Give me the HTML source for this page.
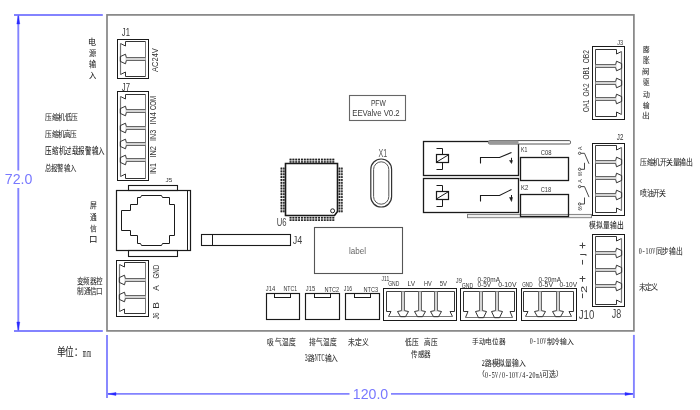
<!DOCTYPE html>
<html lang="zh-CN"><head><meta charset="utf-8"><title>PFW EEValve</title>
<style>
svg{will-change:transform;}
html,body{margin:0;padding:0;background:#fff;width:700px;height:410px;overflow:hidden;position:relative;font-family:"Liberation Sans",sans-serif;}

</style></head><body>
<svg width="700" height="410" viewBox="0 0 700 410" style="position:absolute;left:0;top:0">
<line x1="14" y1="15.0" x2="102.8" y2="15.0" stroke="#8383ff" stroke-width="1.9"/>
<line x1="14" y1="331" x2="102.8" y2="331" stroke="#8383ff" stroke-width="1.9"/>
<line x1="18.3" y1="15" x2="18.3" y2="170.5" stroke="#8383ff" stroke-width="1.9"/>
<line x1="18.3" y1="188" x2="18.3" y2="331" stroke="#8383ff" stroke-width="1.9"/>
<polygon points="18.30,15.60 16.80,24.00 19.80,24.00" stroke="#2a2aff" stroke-width="0.4" fill="#2a2aff" stroke-linejoin="miter"/>
<polygon points="18.30,330.40 16.80,322.00 19.80,322.00" stroke="#2a2aff" stroke-width="0.4" fill="#2a2aff" stroke-linejoin="miter"/>
<text x="4.8" y="184.4" font-family="Liberation Sans" font-size="14" fill="#7878ff" textLength="27.6" lengthAdjust="spacingAndGlyphs">72.0</text>
<line x1="107" y1="334.9" x2="107" y2="398" stroke="#8383ff" stroke-width="1.9"/>
<line x1="633.9" y1="334.9" x2="633.9" y2="398" stroke="#8383ff" stroke-width="1.9"/>
<line x1="107" y1="393.9" x2="349.5" y2="393.9" stroke="#8383ff" stroke-width="1.9"/>
<line x1="391" y1="393.9" x2="633.9" y2="393.9" stroke="#8383ff" stroke-width="1.9"/>
<polygon points="108.00,393.90 116.00,392.40 116.00,395.40" stroke="#2a2aff" stroke-width="0.4" fill="#2a2aff" stroke-linejoin="miter"/>
<polygon points="633.00,393.90 625.00,392.40 625.00,395.40" stroke="#2a2aff" stroke-width="0.4" fill="#2a2aff" stroke-linejoin="miter"/>
<text x="352.8" y="399.2" font-family="Liberation Sans" font-size="14.4" fill="#7878ff" textLength="35.4" lengthAdjust="spacingAndGlyphs">120.0</text>
<rect x="107.0" y="14.9" width="526.90" height="316.00" stroke="#858585" stroke-width="1.7" fill="none"/>
<rect x="117.5" y="39.5" width="31.00" height="39.00" stroke="#1a1a1a" stroke-width="1" fill="none"/>
<line x1="145.5" y1="41.5" x2="145.5" y2="76.5" stroke="#777" stroke-width="1"/>
<polyline points="145.50,41.50 125.50,41.50 125.50,46.00 120.50,43.50" stroke="#333" stroke-width="1" fill="none" stroke-linejoin="miter"/>
<polyline points="145.50,76.50 125.50,76.50 125.50,72.00 120.50,74.50" stroke="#333" stroke-width="1" fill="none" stroke-linejoin="miter"/>
<line x1="120.5" y1="43.5" x2="120.5" y2="74.5" stroke="#777" stroke-width="1.2"/>
<rect x="125.5" y="57.5" width="20.00" height="3" fill="#d4d4d4"/>
<line x1="126.3" y1="57.5" x2="145.5" y2="57.5" stroke="#666" stroke-width="1"/>
<line x1="126.3" y1="60.5" x2="145.5" y2="60.5" stroke="#666" stroke-width="1"/>
<polyline points="126.30,57.50 125.50,54.20 120.30,56.60 120.30,61.40 125.50,63.80 126.30,60.50" stroke="#333" stroke-width="1" fill="none" stroke-linejoin="miter"/>
<g transform="translate(121.808,36.000) scale(0.7179,1)"><text x="0" y="0" font-family="Liberation Sans" font-size="10.714" fill="#333">J1</text></g>
<g transform="translate(157.600,72.000) rotate(-90) scale(0.8013,1)"><text x="0" y="0" font-family="Liberation Sans" font-size="9.429" fill="#333">AC24V</text></g>
<rect x="117.5" y="91.5" width="31.00" height="89.00" stroke="#1a1a1a" stroke-width="1" fill="none"/>
<line x1="145.5" y1="94.5" x2="145.5" y2="178.5" stroke="#777" stroke-width="1"/>
<polyline points="145.50,94.50 125.50,94.50 125.50,99.00 120.50,96.50" stroke="#333" stroke-width="1" fill="none" stroke-linejoin="miter"/>
<polyline points="145.50,178.50 125.50,178.50 125.50,174.00 120.50,176.50" stroke="#333" stroke-width="1" fill="none" stroke-linejoin="miter"/>
<line x1="120.5" y1="96.5" x2="120.5" y2="176.5" stroke="#777" stroke-width="1.2"/>
<rect x="125.5" y="109.5" width="20.00" height="3" fill="#d4d4d4"/>
<line x1="126.3" y1="109.5" x2="145.5" y2="109.5" stroke="#666" stroke-width="1"/>
<line x1="126.3" y1="112.5" x2="145.5" y2="112.5" stroke="#666" stroke-width="1"/>
<polyline points="126.30,109.50 125.50,106.20 120.30,108.60 120.30,113.40 125.50,115.80 126.30,112.50" stroke="#333" stroke-width="1" fill="none" stroke-linejoin="miter"/>
<rect x="125.5" y="126.5" width="20.00" height="3" fill="#d4d4d4"/>
<line x1="126.3" y1="126.5" x2="145.5" y2="126.5" stroke="#666" stroke-width="1"/>
<line x1="126.3" y1="129.5" x2="145.5" y2="129.5" stroke="#666" stroke-width="1"/>
<polyline points="126.30,126.50 125.50,123.20 120.30,125.60 120.30,130.40 125.50,132.80 126.30,129.50" stroke="#333" stroke-width="1" fill="none" stroke-linejoin="miter"/>
<rect x="125.5" y="142.5" width="20.00" height="3" fill="#d4d4d4"/>
<line x1="126.3" y1="142.5" x2="145.5" y2="142.5" stroke="#666" stroke-width="1"/>
<line x1="126.3" y1="145.5" x2="145.5" y2="145.5" stroke="#666" stroke-width="1"/>
<polyline points="126.30,142.50 125.50,139.20 120.30,141.60 120.30,146.40 125.50,148.80 126.30,145.50" stroke="#333" stroke-width="1" fill="none" stroke-linejoin="miter"/>
<rect x="125.5" y="158.5" width="20.00" height="3" fill="#d4d4d4"/>
<line x1="126.3" y1="158.5" x2="145.5" y2="158.5" stroke="#666" stroke-width="1"/>
<line x1="126.3" y1="161.5" x2="145.5" y2="161.5" stroke="#666" stroke-width="1"/>
<polyline points="126.30,158.50 125.50,155.20 120.30,157.60 120.30,162.40 125.50,164.80 126.30,161.50" stroke="#333" stroke-width="1" fill="none" stroke-linejoin="miter"/>
<g transform="translate(121.808,90.500) scale(0.7179,1)"><text x="0" y="0" font-family="Liberation Sans" font-size="10.714" fill="#333">J7</text></g>
<g transform="translate(156.000,110.105) rotate(-90) scale(0.7480,1)"><text x="0" y="0" font-family="Liberation Sans" font-size="8.143" fill="#333">COM</text></g>
<g transform="translate(156.000,124.386) rotate(-90) scale(0.9652,1)"><text x="0" y="0" font-family="Liberation Sans" font-size="8.143" fill="#333">IN4</text></g>
<g transform="translate(156.000,140.916) rotate(-90) scale(0.8790,1)"><text x="0" y="0" font-family="Liberation Sans" font-size="8.143" fill="#333">IN3</text></g>
<g transform="translate(156.000,157.543) rotate(-90) scale(0.9123,1)"><text x="0" y="0" font-family="Liberation Sans" font-size="8.143" fill="#333">IN2</text></g>
<g transform="translate(156.000,174.100) rotate(-90) scale(0.8596,1)"><text x="0" y="0" font-family="Liberation Sans" font-size="8.143" fill="#333">IN1</text></g>
<rect x="116.5" y="260.5" width="32.00" height="56.00" stroke="#1a1a1a" stroke-width="1" fill="none"/>
<line x1="145.5" y1="262.5" x2="145.5" y2="313.5" stroke="#777" stroke-width="1"/>
<polyline points="145.50,262.50 124.50,262.50 124.50,267.00 119.50,264.50" stroke="#333" stroke-width="1" fill="none" stroke-linejoin="miter"/>
<polyline points="145.50,313.50 124.50,313.50 124.50,309.00 119.50,311.50" stroke="#333" stroke-width="1" fill="none" stroke-linejoin="miter"/>
<line x1="119.5" y1="264.5" x2="119.5" y2="311.5" stroke="#777" stroke-width="1.2"/>
<rect x="124.5" y="278.5" width="21.00" height="3" fill="#d4d4d4"/>
<line x1="125.3" y1="278.5" x2="145.5" y2="278.5" stroke="#666" stroke-width="1"/>
<line x1="125.3" y1="281.5" x2="145.5" y2="281.5" stroke="#666" stroke-width="1"/>
<polyline points="125.30,278.50 124.50,275.20 119.30,277.60 119.30,282.40 124.50,284.80 125.30,281.50" stroke="#333" stroke-width="1" fill="none" stroke-linejoin="miter"/>
<rect x="124.5" y="295.5" width="21.00" height="3" fill="#d4d4d4"/>
<line x1="125.3" y1="295.5" x2="145.5" y2="295.5" stroke="#666" stroke-width="1"/>
<line x1="125.3" y1="298.5" x2="145.5" y2="298.5" stroke="#666" stroke-width="1"/>
<polyline points="125.30,295.50 124.50,292.20 119.30,294.60 119.30,299.40 124.50,301.80 125.30,298.50" stroke="#333" stroke-width="1" fill="none" stroke-linejoin="miter"/>
<g transform="translate(159.000,278.613) rotate(-90) scale(0.6443,1)"><text x="0" y="0" font-family="Liberation Sans" font-size="9.714" fill="#333">GND</text></g>
<g transform="translate(159.000,290.800) rotate(-90) scale(0.8388,1)"><text x="0" y="0" font-family="Liberation Sans" font-size="9.714" fill="#333">A</text></g>
<g transform="translate(159.000,308.750) rotate(-90) scale(1.0294,1)"><text x="0" y="0" font-family="Liberation Sans" font-size="9.714" fill="#333">B</text></g>
<g transform="translate(159.000,319.158) rotate(-90) scale(0.6485,1)"><text x="0" y="0" font-family="Liberation Sans" font-size="9.714" fill="#333">J6</text></g>
<rect x="128.5" y="185.5" width="49.00" height="5.00" stroke="#1a1a1a" stroke-width="1.1" fill="none"/>
<rect x="116.5" y="190.5" width="74.00" height="60.00" stroke="#1a1a1a" stroke-width="1.2" fill="none"/>
<line x1="187.5" y1="190.6" x2="187.5" y2="250.2" stroke="#1a1a1a" stroke-width="1"/>
<rect x="128.5" y="250.5" width="49.00" height="6.00" stroke="#1a1a1a" stroke-width="1.1" fill="none"/>
<polygon points="141.50,195.50 161.50,195.50 162.50,197.50 169.50,197.50 169.50,204.50 174.50,204.50 174.50,235.50 169.50,235.50 169.50,243.50 162.50,243.50 161.50,245.50 141.50,245.50 140.50,243.50 137.50,243.50 137.50,235.50 130.50,235.50 130.50,230.50 121.50,230.50 121.50,210.50 130.50,210.50 130.50,204.50 137.50,204.50 137.50,197.50 140.50,197.50" stroke="#1a1a1a" stroke-width="1" fill="none" stroke-linejoin="miter"/>
<g transform="translate(165.440,181.800) scale(1.1789,1)"><text x="0" y="0" font-family="Liberation Sans" font-size="5.429" fill="#333">J5</text></g>
<rect x="201.5" y="234.5" width="89.00" height="11.00" stroke="#1a1a1a" stroke-width="1.1" fill="none"/>
<line x1="212.5" y1="234.4" x2="212.5" y2="245.6" stroke="#1a1a1a" stroke-width="1"/>
<g transform="translate(292.775,243.600) scale(0.7875,1)"><text x="0" y="0" font-family="Liberation Sans" font-size="11.429" fill="#444">J4</text></g>
<polygon points="285.50,163.50 337.50,163.50 337.50,211.50 334.50,215.50 285.50,215.50" stroke="#1a1a1a" stroke-width="1.6" fill="none" stroke-linejoin="miter"/>
<circle cx="332.6" cy="210.8" r="2" stroke="#222" stroke-width="1" fill="none"/>
<g>
<rect x="289.60" y="158.70" width="1.9" height="4.0" fill="#9a9a9a"/>
<rect x="289.60" y="158.70" width="1.9" height="1.4" fill="#222"/>
<rect x="289.60" y="161.30" width="1.9" height="1.4" fill="#222"/>
<rect x="289.60" y="216.90" width="1.9" height="4.0" fill="#9a9a9a"/>
<rect x="289.60" y="216.90" width="1.9" height="1.4" fill="#222"/>
<rect x="289.60" y="219.50" width="1.9" height="1.4" fill="#222"/>
<rect x="280.60" y="167.60" width="4.0" height="1.9" fill="#9a9a9a"/>
<rect x="280.60" y="167.60" width="1.4" height="1.9" fill="#222"/>
<rect x="283.20" y="167.60" width="1.4" height="1.9" fill="#222"/>
<rect x="338.60" y="167.60" width="4.0" height="1.9" fill="#9a9a9a"/>
<rect x="338.60" y="167.60" width="1.4" height="1.9" fill="#222"/>
<rect x="341.20" y="167.60" width="1.4" height="1.9" fill="#222"/>
<rect x="292.45" y="158.70" width="1.9" height="4.0" fill="#9a9a9a"/>
<rect x="292.45" y="158.70" width="1.9" height="1.4" fill="#222"/>
<rect x="292.45" y="161.30" width="1.9" height="1.4" fill="#222"/>
<rect x="292.45" y="216.90" width="1.9" height="4.0" fill="#9a9a9a"/>
<rect x="292.45" y="216.90" width="1.9" height="1.4" fill="#222"/>
<rect x="292.45" y="219.50" width="1.9" height="1.4" fill="#222"/>
<rect x="280.60" y="170.45" width="4.0" height="1.9" fill="#9a9a9a"/>
<rect x="280.60" y="170.45" width="1.4" height="1.9" fill="#222"/>
<rect x="283.20" y="170.45" width="1.4" height="1.9" fill="#222"/>
<rect x="338.60" y="170.45" width="4.0" height="1.9" fill="#9a9a9a"/>
<rect x="338.60" y="170.45" width="1.4" height="1.9" fill="#222"/>
<rect x="341.20" y="170.45" width="1.4" height="1.9" fill="#222"/>
<rect x="295.30" y="158.70" width="1.9" height="4.0" fill="#9a9a9a"/>
<rect x="295.30" y="158.70" width="1.9" height="1.4" fill="#222"/>
<rect x="295.30" y="161.30" width="1.9" height="1.4" fill="#222"/>
<rect x="295.30" y="216.90" width="1.9" height="4.0" fill="#9a9a9a"/>
<rect x="295.30" y="216.90" width="1.9" height="1.4" fill="#222"/>
<rect x="295.30" y="219.50" width="1.9" height="1.4" fill="#222"/>
<rect x="280.60" y="173.30" width="4.0" height="1.9" fill="#9a9a9a"/>
<rect x="280.60" y="173.30" width="1.4" height="1.9" fill="#222"/>
<rect x="283.20" y="173.30" width="1.4" height="1.9" fill="#222"/>
<rect x="338.60" y="173.30" width="4.0" height="1.9" fill="#9a9a9a"/>
<rect x="338.60" y="173.30" width="1.4" height="1.9" fill="#222"/>
<rect x="341.20" y="173.30" width="1.4" height="1.9" fill="#222"/>
<rect x="298.15" y="158.70" width="1.9" height="4.0" fill="#9a9a9a"/>
<rect x="298.15" y="158.70" width="1.9" height="1.4" fill="#222"/>
<rect x="298.15" y="161.30" width="1.9" height="1.4" fill="#222"/>
<rect x="298.15" y="216.90" width="1.9" height="4.0" fill="#9a9a9a"/>
<rect x="298.15" y="216.90" width="1.9" height="1.4" fill="#222"/>
<rect x="298.15" y="219.50" width="1.9" height="1.4" fill="#222"/>
<rect x="280.60" y="176.15" width="4.0" height="1.9" fill="#9a9a9a"/>
<rect x="280.60" y="176.15" width="1.4" height="1.9" fill="#222"/>
<rect x="283.20" y="176.15" width="1.4" height="1.9" fill="#222"/>
<rect x="338.60" y="176.15" width="4.0" height="1.9" fill="#9a9a9a"/>
<rect x="338.60" y="176.15" width="1.4" height="1.9" fill="#222"/>
<rect x="341.20" y="176.15" width="1.4" height="1.9" fill="#222"/>
<rect x="301.00" y="158.70" width="1.9" height="4.0" fill="#9a9a9a"/>
<rect x="301.00" y="158.70" width="1.9" height="1.4" fill="#222"/>
<rect x="301.00" y="161.30" width="1.9" height="1.4" fill="#222"/>
<rect x="301.00" y="216.90" width="1.9" height="4.0" fill="#9a9a9a"/>
<rect x="301.00" y="216.90" width="1.9" height="1.4" fill="#222"/>
<rect x="301.00" y="219.50" width="1.9" height="1.4" fill="#222"/>
<rect x="280.60" y="179.00" width="4.0" height="1.9" fill="#9a9a9a"/>
<rect x="280.60" y="179.00" width="1.4" height="1.9" fill="#222"/>
<rect x="283.20" y="179.00" width="1.4" height="1.9" fill="#222"/>
<rect x="338.60" y="179.00" width="4.0" height="1.9" fill="#9a9a9a"/>
<rect x="338.60" y="179.00" width="1.4" height="1.9" fill="#222"/>
<rect x="341.20" y="179.00" width="1.4" height="1.9" fill="#222"/>
<rect x="303.85" y="158.70" width="1.9" height="4.0" fill="#9a9a9a"/>
<rect x="303.85" y="158.70" width="1.9" height="1.4" fill="#222"/>
<rect x="303.85" y="161.30" width="1.9" height="1.4" fill="#222"/>
<rect x="303.85" y="216.90" width="1.9" height="4.0" fill="#9a9a9a"/>
<rect x="303.85" y="216.90" width="1.9" height="1.4" fill="#222"/>
<rect x="303.85" y="219.50" width="1.9" height="1.4" fill="#222"/>
<rect x="280.60" y="181.85" width="4.0" height="1.9" fill="#9a9a9a"/>
<rect x="280.60" y="181.85" width="1.4" height="1.9" fill="#222"/>
<rect x="283.20" y="181.85" width="1.4" height="1.9" fill="#222"/>
<rect x="338.60" y="181.85" width="4.0" height="1.9" fill="#9a9a9a"/>
<rect x="338.60" y="181.85" width="1.4" height="1.9" fill="#222"/>
<rect x="341.20" y="181.85" width="1.4" height="1.9" fill="#222"/>
<rect x="306.70" y="158.70" width="1.9" height="4.0" fill="#9a9a9a"/>
<rect x="306.70" y="158.70" width="1.9" height="1.4" fill="#222"/>
<rect x="306.70" y="161.30" width="1.9" height="1.4" fill="#222"/>
<rect x="306.70" y="216.90" width="1.9" height="4.0" fill="#9a9a9a"/>
<rect x="306.70" y="216.90" width="1.9" height="1.4" fill="#222"/>
<rect x="306.70" y="219.50" width="1.9" height="1.4" fill="#222"/>
<rect x="280.60" y="184.70" width="4.0" height="1.9" fill="#9a9a9a"/>
<rect x="280.60" y="184.70" width="1.4" height="1.9" fill="#222"/>
<rect x="283.20" y="184.70" width="1.4" height="1.9" fill="#222"/>
<rect x="338.60" y="184.70" width="4.0" height="1.9" fill="#9a9a9a"/>
<rect x="338.60" y="184.70" width="1.4" height="1.9" fill="#222"/>
<rect x="341.20" y="184.70" width="1.4" height="1.9" fill="#222"/>
<rect x="309.55" y="158.70" width="1.9" height="4.0" fill="#9a9a9a"/>
<rect x="309.55" y="158.70" width="1.9" height="1.4" fill="#222"/>
<rect x="309.55" y="161.30" width="1.9" height="1.4" fill="#222"/>
<rect x="309.55" y="216.90" width="1.9" height="4.0" fill="#9a9a9a"/>
<rect x="309.55" y="216.90" width="1.9" height="1.4" fill="#222"/>
<rect x="309.55" y="219.50" width="1.9" height="1.4" fill="#222"/>
<rect x="280.60" y="187.55" width="4.0" height="1.9" fill="#9a9a9a"/>
<rect x="280.60" y="187.55" width="1.4" height="1.9" fill="#222"/>
<rect x="283.20" y="187.55" width="1.4" height="1.9" fill="#222"/>
<rect x="338.60" y="187.55" width="4.0" height="1.9" fill="#9a9a9a"/>
<rect x="338.60" y="187.55" width="1.4" height="1.9" fill="#222"/>
<rect x="341.20" y="187.55" width="1.4" height="1.9" fill="#222"/>
<rect x="312.40" y="158.70" width="1.9" height="4.0" fill="#9a9a9a"/>
<rect x="312.40" y="158.70" width="1.9" height="1.4" fill="#222"/>
<rect x="312.40" y="161.30" width="1.9" height="1.4" fill="#222"/>
<rect x="312.40" y="216.90" width="1.9" height="4.0" fill="#9a9a9a"/>
<rect x="312.40" y="216.90" width="1.9" height="1.4" fill="#222"/>
<rect x="312.40" y="219.50" width="1.9" height="1.4" fill="#222"/>
<rect x="280.60" y="190.40" width="4.0" height="1.9" fill="#9a9a9a"/>
<rect x="280.60" y="190.40" width="1.4" height="1.9" fill="#222"/>
<rect x="283.20" y="190.40" width="1.4" height="1.9" fill="#222"/>
<rect x="338.60" y="190.40" width="4.0" height="1.9" fill="#9a9a9a"/>
<rect x="338.60" y="190.40" width="1.4" height="1.9" fill="#222"/>
<rect x="341.20" y="190.40" width="1.4" height="1.9" fill="#222"/>
<rect x="315.25" y="158.70" width="1.9" height="4.0" fill="#9a9a9a"/>
<rect x="315.25" y="158.70" width="1.9" height="1.4" fill="#222"/>
<rect x="315.25" y="161.30" width="1.9" height="1.4" fill="#222"/>
<rect x="315.25" y="216.90" width="1.9" height="4.0" fill="#9a9a9a"/>
<rect x="315.25" y="216.90" width="1.9" height="1.4" fill="#222"/>
<rect x="315.25" y="219.50" width="1.9" height="1.4" fill="#222"/>
<rect x="280.60" y="193.25" width="4.0" height="1.9" fill="#9a9a9a"/>
<rect x="280.60" y="193.25" width="1.4" height="1.9" fill="#222"/>
<rect x="283.20" y="193.25" width="1.4" height="1.9" fill="#222"/>
<rect x="338.60" y="193.25" width="4.0" height="1.9" fill="#9a9a9a"/>
<rect x="338.60" y="193.25" width="1.4" height="1.9" fill="#222"/>
<rect x="341.20" y="193.25" width="1.4" height="1.9" fill="#222"/>
<rect x="318.10" y="158.70" width="1.9" height="4.0" fill="#9a9a9a"/>
<rect x="318.10" y="158.70" width="1.9" height="1.4" fill="#222"/>
<rect x="318.10" y="161.30" width="1.9" height="1.4" fill="#222"/>
<rect x="318.10" y="216.90" width="1.9" height="4.0" fill="#9a9a9a"/>
<rect x="318.10" y="216.90" width="1.9" height="1.4" fill="#222"/>
<rect x="318.10" y="219.50" width="1.9" height="1.4" fill="#222"/>
<rect x="280.60" y="196.10" width="4.0" height="1.9" fill="#9a9a9a"/>
<rect x="280.60" y="196.10" width="1.4" height="1.9" fill="#222"/>
<rect x="283.20" y="196.10" width="1.4" height="1.9" fill="#222"/>
<rect x="338.60" y="196.10" width="4.0" height="1.9" fill="#9a9a9a"/>
<rect x="338.60" y="196.10" width="1.4" height="1.9" fill="#222"/>
<rect x="341.20" y="196.10" width="1.4" height="1.9" fill="#222"/>
<rect x="320.95" y="158.70" width="1.9" height="4.0" fill="#9a9a9a"/>
<rect x="320.95" y="158.70" width="1.9" height="1.4" fill="#222"/>
<rect x="320.95" y="161.30" width="1.9" height="1.4" fill="#222"/>
<rect x="320.95" y="216.90" width="1.9" height="4.0" fill="#9a9a9a"/>
<rect x="320.95" y="216.90" width="1.9" height="1.4" fill="#222"/>
<rect x="320.95" y="219.50" width="1.9" height="1.4" fill="#222"/>
<rect x="280.60" y="198.95" width="4.0" height="1.9" fill="#9a9a9a"/>
<rect x="280.60" y="198.95" width="1.4" height="1.9" fill="#222"/>
<rect x="283.20" y="198.95" width="1.4" height="1.9" fill="#222"/>
<rect x="338.60" y="198.95" width="4.0" height="1.9" fill="#9a9a9a"/>
<rect x="338.60" y="198.95" width="1.4" height="1.9" fill="#222"/>
<rect x="341.20" y="198.95" width="1.4" height="1.9" fill="#222"/>
<rect x="323.80" y="158.70" width="1.9" height="4.0" fill="#9a9a9a"/>
<rect x="323.80" y="158.70" width="1.9" height="1.4" fill="#222"/>
<rect x="323.80" y="161.30" width="1.9" height="1.4" fill="#222"/>
<rect x="323.80" y="216.90" width="1.9" height="4.0" fill="#9a9a9a"/>
<rect x="323.80" y="216.90" width="1.9" height="1.4" fill="#222"/>
<rect x="323.80" y="219.50" width="1.9" height="1.4" fill="#222"/>
<rect x="280.60" y="201.80" width="4.0" height="1.9" fill="#9a9a9a"/>
<rect x="280.60" y="201.80" width="1.4" height="1.9" fill="#222"/>
<rect x="283.20" y="201.80" width="1.4" height="1.9" fill="#222"/>
<rect x="338.60" y="201.80" width="4.0" height="1.9" fill="#9a9a9a"/>
<rect x="338.60" y="201.80" width="1.4" height="1.9" fill="#222"/>
<rect x="341.20" y="201.80" width="1.4" height="1.9" fill="#222"/>
<rect x="326.65" y="158.70" width="1.9" height="4.0" fill="#9a9a9a"/>
<rect x="326.65" y="158.70" width="1.9" height="1.4" fill="#222"/>
<rect x="326.65" y="161.30" width="1.9" height="1.4" fill="#222"/>
<rect x="326.65" y="216.90" width="1.9" height="4.0" fill="#9a9a9a"/>
<rect x="326.65" y="216.90" width="1.9" height="1.4" fill="#222"/>
<rect x="326.65" y="219.50" width="1.9" height="1.4" fill="#222"/>
<rect x="280.60" y="204.65" width="4.0" height="1.9" fill="#9a9a9a"/>
<rect x="280.60" y="204.65" width="1.4" height="1.9" fill="#222"/>
<rect x="283.20" y="204.65" width="1.4" height="1.9" fill="#222"/>
<rect x="338.60" y="204.65" width="4.0" height="1.9" fill="#9a9a9a"/>
<rect x="338.60" y="204.65" width="1.4" height="1.9" fill="#222"/>
<rect x="341.20" y="204.65" width="1.4" height="1.9" fill="#222"/>
<rect x="329.50" y="158.70" width="1.9" height="4.0" fill="#9a9a9a"/>
<rect x="329.50" y="158.70" width="1.9" height="1.4" fill="#222"/>
<rect x="329.50" y="161.30" width="1.9" height="1.4" fill="#222"/>
<rect x="329.50" y="216.90" width="1.9" height="4.0" fill="#9a9a9a"/>
<rect x="329.50" y="216.90" width="1.9" height="1.4" fill="#222"/>
<rect x="329.50" y="219.50" width="1.9" height="1.4" fill="#222"/>
<rect x="280.60" y="207.50" width="4.0" height="1.9" fill="#9a9a9a"/>
<rect x="280.60" y="207.50" width="1.4" height="1.9" fill="#222"/>
<rect x="283.20" y="207.50" width="1.4" height="1.9" fill="#222"/>
<rect x="338.60" y="207.50" width="4.0" height="1.9" fill="#9a9a9a"/>
<rect x="338.60" y="207.50" width="1.4" height="1.9" fill="#222"/>
<rect x="341.20" y="207.50" width="1.4" height="1.9" fill="#222"/>
<rect x="332.35" y="158.70" width="1.9" height="4.0" fill="#9a9a9a"/>
<rect x="332.35" y="158.70" width="1.9" height="1.4" fill="#222"/>
<rect x="332.35" y="161.30" width="1.9" height="1.4" fill="#222"/>
<rect x="332.35" y="216.90" width="1.9" height="4.0" fill="#9a9a9a"/>
<rect x="332.35" y="216.90" width="1.9" height="1.4" fill="#222"/>
<rect x="332.35" y="219.50" width="1.9" height="1.4" fill="#222"/>
<rect x="280.60" y="210.35" width="4.0" height="1.9" fill="#9a9a9a"/>
<rect x="280.60" y="210.35" width="1.4" height="1.9" fill="#222"/>
<rect x="283.20" y="210.35" width="1.4" height="1.9" fill="#222"/>
<rect x="338.60" y="210.35" width="4.0" height="1.9" fill="#9a9a9a"/>
<rect x="338.60" y="210.35" width="1.4" height="1.9" fill="#222"/>
<rect x="341.20" y="210.35" width="1.4" height="1.9" fill="#222"/>
</g>
<g transform="translate(276.626,225.600) scale(0.7660,1)"><text x="0" y="0" font-family="Liberation Sans" font-size="10.000" fill="#444">U6</text></g>
<rect x="349.5" y="95.5" width="56.00" height="25.00" stroke="#666" stroke-width="1.1" fill="none"/>
<g transform="translate(370.898,105.800) scale(0.7104,1)"><text x="0" y="0" font-family="Liberation Sans" font-size="9.429" fill="#3a3a3a">PFW</text></g>
<g transform="translate(352.215,116.000) scale(0.8124,1)"><text x="0" y="0" font-family="Liberation Sans" font-size="9.600" fill="#3a3a3a">EEValve V0.2</text></g>
<rect x="370.8" y="159" width="20.8" height="48" rx="10.4" ry="10.4" stroke="#333" stroke-width="1.2" fill="none"/>
<rect x="373.6" y="161.8" width="15.2" height="42.4" rx="7.6" ry="7.6" stroke="#555" stroke-width="1" fill="none"/>
<g transform="translate(378.622,157.000) scale(0.6399,1)"><text x="0" y="0" font-family="Liberation Sans" font-size="11.143" fill="#555">X1</text></g>
<rect x="314.5" y="227.5" width="88.00" height="46.00" stroke="#555" stroke-width="1.1" fill="none"/>
<text x="349" y="254.4" font-family="Liberation Sans" font-size="8.8" fill="#666" textLength="17" lengthAdjust="spacingAndGlyphs">label</text>
<rect x="423.5" y="141.5" width="95.00" height="34.00" stroke="#1a1a1a" stroke-width="1.3" fill="none"/>
<rect x="436.5" y="154.5" width="12.00" height="8.00" stroke="#1a1a1a" stroke-width="1.2" fill="none"/>
<line x1="436.4" y1="162.2" x2="448.7" y2="154.7" stroke="#1a1a1a" stroke-width="1"/>
<polyline points="436.50,148.50 442.50,148.50 442.50,154.50" stroke="#1a1a1a" stroke-width="1" fill="none" stroke-linejoin="miter"/>
<polyline points="436.50,169.50 442.50,169.50 442.50,162.50" stroke="#1a1a1a" stroke-width="1" fill="none" stroke-linejoin="miter"/>
<polyline points="480.50,163.50 480.50,157.50 499.50,157.50 511.50,152.50" stroke="#1a1a1a" stroke-width="1.1" fill="none" stroke-linejoin="miter"/>
<line x1="511.5" y1="157.8" x2="511.5" y2="160.8" stroke="#1a1a1a" stroke-width="1"/>
<polygon points="509.50,160.50 512.50,160.50 511.50,163.50" stroke="#1a1a1a" stroke-width="0.5" fill="#1a1a1a" stroke-linejoin="miter"/>
<rect x="423.5" y="178.5" width="95.00" height="34.00" stroke="#1a1a1a" stroke-width="1.3" fill="none"/>
<rect x="436.5" y="191.5" width="12.00" height="8.00" stroke="#1a1a1a" stroke-width="1.2" fill="none"/>
<line x1="436.4" y1="199" x2="448.7" y2="191.5" stroke="#1a1a1a" stroke-width="1"/>
<polyline points="436.50,185.50 442.50,185.50 442.50,191.50" stroke="#1a1a1a" stroke-width="1" fill="none" stroke-linejoin="miter"/>
<polyline points="436.50,206.50 442.50,206.50 442.50,199.50" stroke="#1a1a1a" stroke-width="1" fill="none" stroke-linejoin="miter"/>
<polyline points="480.50,201.50 480.50,195.50 499.50,195.50 511.50,189.50" stroke="#1a1a1a" stroke-width="1.1" fill="none" stroke-linejoin="miter"/>
<line x1="511.5" y1="195" x2="511.5" y2="198" stroke="#1a1a1a" stroke-width="1"/>
<polygon points="509.50,197.50 512.50,197.50 511.50,201.50" stroke="#1a1a1a" stroke-width="0.5" fill="#1a1a1a" stroke-linejoin="miter"/>
<rect x="488.5" y="140.6" width="82" height="3.4" rx="1.2" stroke="#555" stroke-width="1" fill="#fff"/>
<rect x="488.5" y="140.6" width="30" height="3.4" rx="1.2" fill="#999"/>
<rect x="467.5" y="214.4" width="124" height="3.3" stroke="#777" stroke-width="0.9" fill="#f0f0f0"/>
<rect x="520.5" y="157.5" width="48.00" height="23.00" stroke="#1a1a1a" stroke-width="1.3" fill="none"/>
<rect x="520.5" y="194.5" width="48.00" height="22.00" stroke="#1a1a1a" stroke-width="1.3" fill="none"/>
<g transform="translate(521.111,151.800) scale(0.7885,1)"><text x="0" y="0" font-family="Liberation Sans" font-size="6.571" fill="#333">K1</text></g>
<g transform="translate(540.706,155.200) scale(0.7630,1)"><text x="0" y="0" font-family="Liberation Sans" font-size="7.714" fill="#333">C08</text></g>
<g transform="translate(521.057,190.000) scale(0.7804,1)"><text x="0" y="0" font-family="Liberation Sans" font-size="7.571" fill="#333">K2</text></g>
<g transform="translate(540.714,191.500) scale(0.7547,1)"><text x="0" y="0" font-family="Liberation Sans" font-size="7.571" fill="#333">C18</text></g>
<g transform="translate(581.800,150.000) rotate(-90) scale(1.0667,1)"><text x="0" y="0" font-family="Liberation Sans" font-size="5.000" fill="#333">A</text></g>
<circle cx="579.6" cy="153.3" r="1.2" stroke="#333" stroke-width="0.8" fill="none"/>
<polyline points="580.80,153.30 584.50,153.30 589.00,163.80" stroke="#333" stroke-width="0.9" fill="none" stroke-linejoin="miter"/>
<circle cx="579.6" cy="169.3" r="1.2" stroke="#333" stroke-width="0.8" fill="none"/>
<polyline points="580.80,169.30 584.50,169.30 584.50,162.80" stroke="#333" stroke-width="0.9" fill="none" stroke-linejoin="miter"/>
<g transform="translate(582.000,175.885) rotate(-90) scale(0.6488,1)"><text x="0" y="0" font-family="Liberation Sans" font-size="5.714" fill="#333">68</text></g>
<g transform="translate(581.800,182.700) rotate(-90) scale(1.0667,1)"><text x="0" y="0" font-family="Liberation Sans" font-size="5.000" fill="#333">A</text></g>
<circle cx="579.6" cy="186.6" r="1.2" stroke="#333" stroke-width="0.8" fill="none"/>
<polyline points="580.80,186.60 584.50,186.60 589.00,197.10" stroke="#333" stroke-width="0.9" fill="none" stroke-linejoin="miter"/>
<circle cx="579.6" cy="204" r="1.2" stroke="#333" stroke-width="0.8" fill="none"/>
<polyline points="580.80,204.00 584.50,204.00 584.50,197.50" stroke="#333" stroke-width="0.9" fill="none" stroke-linejoin="miter"/>
<g transform="translate(582.000,210.585) rotate(-90) scale(0.6488,1)"><text x="0" y="0" font-family="Liberation Sans" font-size="5.714" fill="#333">68</text></g>
<rect x="592.5" y="46.5" width="32.00" height="73.00" stroke="#1a1a1a" stroke-width="1" fill="none"/>
<line x1="595.5" y1="49.5" x2="595.5" y2="116.5" stroke="#444" stroke-width="1"/>
<polyline points="595.50,49.50 616.50,49.50 616.50,54.00 621.50,51.50" stroke="#333" stroke-width="1" fill="none" stroke-linejoin="miter"/>
<polyline points="595.50,116.50 616.50,116.50 616.50,112.00 621.50,114.50" stroke="#333" stroke-width="1" fill="none" stroke-linejoin="miter"/>
<line x1="621.5" y1="51.5" x2="621.5" y2="114.5" stroke="#777" stroke-width="1.2"/>
<rect x="595.5" y="64.5" width="21.00" height="3" fill="#d4d4d4"/>
<line x1="595.5" y1="64.5" x2="615.7" y2="64.5" stroke="#666" stroke-width="1"/>
<line x1="595.5" y1="67.5" x2="615.7" y2="67.5" stroke="#666" stroke-width="1"/>
<polyline points="615.70,64.50 616.50,61.20 621.70,63.60 621.70,68.40 616.50,70.80 615.70,67.50" stroke="#333" stroke-width="1" fill="none" stroke-linejoin="miter"/>
<rect x="595.5" y="81.5" width="21.00" height="3" fill="#d4d4d4"/>
<line x1="595.5" y1="81.5" x2="615.7" y2="81.5" stroke="#666" stroke-width="1"/>
<line x1="595.5" y1="84.5" x2="615.7" y2="84.5" stroke="#666" stroke-width="1"/>
<polyline points="615.70,81.50 616.50,78.20 621.70,80.60 621.70,85.40 616.50,87.80 615.70,84.50" stroke="#333" stroke-width="1" fill="none" stroke-linejoin="miter"/>
<rect x="595.5" y="97.5" width="21.00" height="3" fill="#d4d4d4"/>
<line x1="595.5" y1="97.5" x2="615.7" y2="97.5" stroke="#666" stroke-width="1"/>
<line x1="595.5" y1="100.5" x2="615.7" y2="100.5" stroke="#666" stroke-width="1"/>
<polyline points="615.70,97.50 616.50,94.20 621.70,96.60 621.70,101.40 616.50,103.80 615.70,100.50" stroke="#333" stroke-width="1" fill="none" stroke-linejoin="miter"/>
<g transform="translate(617.260,44.600) scale(0.8522,1)"><text x="0" y="0" font-family="Liberation Sans" font-size="6.571" fill="#333">J3</text></g>
<g transform="translate(589.400,63.332) rotate(-90) scale(0.7033,1)"><text x="0" y="0" font-family="Liberation Sans" font-size="9.429" fill="#333">OB2</text></g>
<g transform="translate(589.400,79.521) rotate(-90) scale(0.6810,1)"><text x="0" y="0" font-family="Liberation Sans" font-size="9.429" fill="#333">OB1</text></g>
<g transform="translate(589.400,96.526) rotate(-90) scale(0.6922,1)"><text x="0" y="0" font-family="Liberation Sans" font-size="9.429" fill="#333">OA2</text></g>
<g transform="translate(589.400,112.111) rotate(-90) scale(0.6587,1)"><text x="0" y="0" font-family="Liberation Sans" font-size="9.429" fill="#333">OA1</text></g>
<rect x="592.5" y="143.5" width="32.00" height="72.00" stroke="#1a1a1a" stroke-width="1" fill="none"/>
<line x1="595.5" y1="145.5" x2="595.5" y2="212.5" stroke="#444" stroke-width="1"/>
<polyline points="595.50,145.50 616.50,145.50 616.50,150.00 621.50,147.50" stroke="#333" stroke-width="1" fill="none" stroke-linejoin="miter"/>
<polyline points="595.50,212.50 616.50,212.50 616.50,208.00 621.50,210.50" stroke="#333" stroke-width="1" fill="none" stroke-linejoin="miter"/>
<line x1="621.5" y1="147.5" x2="621.5" y2="210.5" stroke="#777" stroke-width="1.2"/>
<rect x="595.5" y="160.5" width="21.00" height="3" fill="#d4d4d4"/>
<line x1="595.5" y1="160.5" x2="615.7" y2="160.5" stroke="#666" stroke-width="1"/>
<line x1="595.5" y1="163.5" x2="615.7" y2="163.5" stroke="#666" stroke-width="1"/>
<polyline points="615.70,160.50 616.50,157.20 621.70,159.60 621.70,164.40 616.50,166.80 615.70,163.50" stroke="#333" stroke-width="1" fill="none" stroke-linejoin="miter"/>
<rect x="595.5" y="176.5" width="21.00" height="3" fill="#d4d4d4"/>
<line x1="595.5" y1="176.5" x2="615.7" y2="176.5" stroke="#666" stroke-width="1"/>
<line x1="595.5" y1="179.5" x2="615.7" y2="179.5" stroke="#666" stroke-width="1"/>
<polyline points="615.70,176.50 616.50,173.20 621.70,175.60 621.70,180.40 616.50,182.80 615.70,179.50" stroke="#333" stroke-width="1" fill="none" stroke-linejoin="miter"/>
<rect x="595.5" y="193.5" width="21.00" height="3" fill="#d4d4d4"/>
<line x1="595.5" y1="193.5" x2="615.7" y2="193.5" stroke="#666" stroke-width="1"/>
<line x1="595.5" y1="196.5" x2="615.7" y2="196.5" stroke="#666" stroke-width="1"/>
<polyline points="615.70,193.50 616.50,190.20 621.70,192.60 621.70,197.40 616.50,199.80 615.70,196.50" stroke="#333" stroke-width="1" fill="none" stroke-linejoin="miter"/>
<g transform="translate(616.846,140.200) scale(0.7557,1)"><text x="0" y="0" font-family="Liberation Sans" font-size="8.143" fill="#333">J2</text></g>
<rect x="592.5" y="234.5" width="32.00" height="72.00" stroke="#1a1a1a" stroke-width="1" fill="none"/>
<line x1="595.5" y1="236.5" x2="595.5" y2="304.5" stroke="#444" stroke-width="1"/>
<polyline points="595.50,236.50 616.50,236.50 616.50,241.00 621.50,238.50" stroke="#333" stroke-width="1" fill="none" stroke-linejoin="miter"/>
<polyline points="595.50,304.50 616.50,304.50 616.50,300.00 621.50,302.50" stroke="#333" stroke-width="1" fill="none" stroke-linejoin="miter"/>
<line x1="621.5" y1="238.5" x2="621.5" y2="302.5" stroke="#777" stroke-width="1.2"/>
<rect x="595.5" y="251.5" width="21.00" height="3" fill="#d4d4d4"/>
<line x1="595.5" y1="251.5" x2="615.7" y2="251.5" stroke="#666" stroke-width="1"/>
<line x1="595.5" y1="254.5" x2="615.7" y2="254.5" stroke="#666" stroke-width="1"/>
<polyline points="615.70,251.50 616.50,248.20 621.70,250.60 621.70,255.40 616.50,257.80 615.70,254.50" stroke="#333" stroke-width="1" fill="none" stroke-linejoin="miter"/>
<rect x="595.5" y="268.5" width="21.00" height="3" fill="#d4d4d4"/>
<line x1="595.5" y1="268.5" x2="615.7" y2="268.5" stroke="#666" stroke-width="1"/>
<line x1="595.5" y1="271.5" x2="615.7" y2="271.5" stroke="#666" stroke-width="1"/>
<polyline points="615.70,268.50 616.50,265.20 621.70,267.60 621.70,272.40 616.50,274.80 615.70,271.50" stroke="#333" stroke-width="1" fill="none" stroke-linejoin="miter"/>
<rect x="595.5" y="284.5" width="21.00" height="3" fill="#d4d4d4"/>
<line x1="595.5" y1="284.5" x2="615.7" y2="284.5" stroke="#666" stroke-width="1"/>
<line x1="595.5" y1="287.5" x2="615.7" y2="287.5" stroke="#666" stroke-width="1"/>
<polyline points="615.70,284.50 616.50,281.20 621.70,283.60 621.70,288.40 616.50,290.80 615.70,287.50" stroke="#333" stroke-width="1" fill="none" stroke-linejoin="miter"/>
<g transform="translate(611.775,318.200) scale(0.7241,1)"><text x="0" y="0" font-family="Liberation Sans" font-size="12.429" fill="#444">J8</text></g>
<line x1="579.6" y1="245.5" x2="585.4" y2="245.5" stroke="#444" stroke-width="1"/>
<line x1="582.5" y1="242.6" x2="582.5" y2="248.4" stroke="#444" stroke-width="1"/>
<line x1="579.6" y1="278.5" x2="585.4" y2="278.5" stroke="#444" stroke-width="1"/>
<line x1="582.5" y1="276.0" x2="582.5" y2="281.79999999999995" stroke="#444" stroke-width="1"/>
<line x1="580.2" y1="254.5" x2="586.4" y2="254.5" stroke="#444" stroke-width="1"/>
<line x1="585" y1="254.4" x2="586.4" y2="256" stroke="#444" stroke-width="0.8"/>
<line x1="582.5" y1="259.9" x2="582.5" y2="264.6" stroke="#444" stroke-width="1"/>
<line x1="582.5" y1="293.5" x2="582.5" y2="298.2" stroke="#444" stroke-width="1"/>
<g transform="translate(586.600,292.956) rotate(-90) scale(1.3906,1)"><text x="0" y="0" font-family="Liberation Sans" font-size="9.429" fill="#333">2</text></g>
<rect x="266.5" y="293.5" width="33.00" height="26.00" stroke="#1a1a1a" stroke-width="1.15" fill="none"/>
<rect x="274.5" y="293.5" width="16.00" height="4.00" stroke="#1a1a1a" stroke-width="1" fill="none"/>
<rect x="305.5" y="293.5" width="34.00" height="26.00" stroke="#1a1a1a" stroke-width="1.15" fill="none"/>
<rect x="314.5" y="293.5" width="16.00" height="4.00" stroke="#1a1a1a" stroke-width="1" fill="none"/>
<rect x="345.5" y="293.5" width="34.00" height="26.00" stroke="#1a1a1a" stroke-width="1.15" fill="none"/>
<rect x="354.5" y="293.5" width="16.00" height="4.00" stroke="#1a1a1a" stroke-width="1" fill="none"/>
<g transform="translate(265.855,290.600) scale(0.8129,1)"><text x="0" y="0" font-family="Liberation Sans" font-size="7.143" fill="#333">J14</text></g>
<g transform="translate(283.610,291.200) scale(0.7000,1)"><text x="0" y="0" font-family="Liberation Sans" font-size="7.429" fill="#333">NTC1</text></g>
<g transform="translate(305.855,290.600) scale(0.8129,1)"><text x="0" y="0" font-family="Liberation Sans" font-size="7.143" fill="#333">J15</text></g>
<g transform="translate(324.580,292.200) scale(0.7538,1)"><text x="0" y="0" font-family="Liberation Sans" font-size="7.429" fill="#333">NTC2</text></g>
<g transform="translate(343.871,290.600) scale(0.7226,1)"><text x="0" y="0" font-family="Liberation Sans" font-size="7.143" fill="#333">J16</text></g>
<g transform="translate(363.580,292.200) scale(0.7538,1)"><text x="0" y="0" font-family="Liberation Sans" font-size="7.429" fill="#333">NTC3</text></g>
<rect x="383.5" y="288.5" width="73.00" height="32.00" stroke="#1a1a1a" stroke-width="1" fill="none"/>
<line x1="386.5" y1="291.5" x2="454.5" y2="291.5" stroke="#444" stroke-width="1"/>
<polyline points="386.50,291.50 386.50,311.50 391.00,311.50 388.50,316.50" stroke="#333" stroke-width="1" fill="none" stroke-linejoin="miter"/>
<polyline points="454.50,291.50 454.50,311.50 450.00,311.50 452.50,316.50" stroke="#333" stroke-width="1" fill="none" stroke-linejoin="miter"/>
<line x1="388.5" y1="316.5" x2="452.5" y2="316.5" stroke="#777" stroke-width="1.2"/>
<rect x="401.5" y="291.5" width="3" height="20.00" fill="#d4d4d4"/>
<line x1="401.5" y1="291.5" x2="401.5" y2="310.7" stroke="#666" stroke-width="1"/>
<line x1="404.5" y1="291.5" x2="404.5" y2="310.7" stroke="#666" stroke-width="1"/>
<polyline points="401.50,310.70 397.50,311.50 400.50,316.70 405.50,316.70 408.50,311.50 404.50,310.70" stroke="#333" stroke-width="1" fill="none" stroke-linejoin="miter"/>
<rect x="418.5" y="291.5" width="3" height="20.00" fill="#d4d4d4"/>
<line x1="418.5" y1="291.5" x2="418.5" y2="310.7" stroke="#666" stroke-width="1"/>
<line x1="421.5" y1="291.5" x2="421.5" y2="310.7" stroke="#666" stroke-width="1"/>
<polyline points="418.50,310.70 414.50,311.50 417.50,316.70 422.50,316.70 425.50,311.50 421.50,310.70" stroke="#333" stroke-width="1" fill="none" stroke-linejoin="miter"/>
<rect x="434.5" y="291.5" width="3" height="20.00" fill="#d4d4d4"/>
<line x1="434.5" y1="291.5" x2="434.5" y2="310.7" stroke="#666" stroke-width="1"/>
<line x1="437.5" y1="291.5" x2="437.5" y2="310.7" stroke="#666" stroke-width="1"/>
<polyline points="434.50,310.70 430.50,311.50 433.50,316.70 438.50,316.70 441.50,311.50 437.50,310.70" stroke="#333" stroke-width="1" fill="none" stroke-linejoin="miter"/>
<g transform="translate(381.475,280.600) scale(0.7024,1)"><text x="0" y="0" font-family="Liberation Sans" font-size="7.143" fill="#333">J11</text></g>
<g transform="translate(388.151,286.200) scale(0.7591,1)"><text x="0" y="0" font-family="Liberation Sans" font-size="6.571" fill="#333">GND</text></g>
<g transform="translate(407.512,286.200) scale(0.9909,1)"><text x="0" y="0" font-family="Liberation Sans" font-size="6.571" fill="#333">LV</text></g>
<g transform="translate(423.985,286.200) scale(0.8428,1)"><text x="0" y="0" font-family="Liberation Sans" font-size="6.571" fill="#333">HV</text></g>
<g transform="translate(439.702,286.200) scale(0.9066,1)"><text x="0" y="0" font-family="Liberation Sans" font-size="6.571" fill="#333">5V</text></g>
<rect x="460.5" y="288.5" width="56.00" height="32.00" stroke="#1a1a1a" stroke-width="1" fill="none"/>
<line x1="463.5" y1="291.5" x2="514.5" y2="291.5" stroke="#444" stroke-width="1"/>
<polyline points="463.50,291.50 463.50,311.50 468.00,311.50 465.50,317.50" stroke="#333" stroke-width="1" fill="none" stroke-linejoin="miter"/>
<polyline points="514.50,291.50 514.50,311.50 510.00,311.50 512.50,317.50" stroke="#333" stroke-width="1" fill="none" stroke-linejoin="miter"/>
<line x1="465.5" y1="317.5" x2="512.5" y2="317.5" stroke="#777" stroke-width="1.2"/>
<rect x="479.5" y="291.5" width="3" height="20.00" fill="#d4d4d4"/>
<line x1="479.5" y1="291.5" x2="479.5" y2="310.7" stroke="#666" stroke-width="1"/>
<line x1="482.5" y1="291.5" x2="482.5" y2="310.7" stroke="#666" stroke-width="1"/>
<polyline points="479.50,310.70 475.50,311.50 478.50,317.70 483.50,317.70 486.50,311.50 482.50,310.70" stroke="#333" stroke-width="1" fill="none" stroke-linejoin="miter"/>
<rect x="495.5" y="291.5" width="3" height="20.00" fill="#d4d4d4"/>
<line x1="495.5" y1="291.5" x2="495.5" y2="310.7" stroke="#666" stroke-width="1"/>
<line x1="498.5" y1="291.5" x2="498.5" y2="310.7" stroke="#666" stroke-width="1"/>
<polyline points="495.50,310.70 491.50,311.50 494.50,317.70 499.50,317.70 502.50,311.50 498.50,310.70" stroke="#333" stroke-width="1" fill="none" stroke-linejoin="miter"/>
<g transform="translate(455.856,283.200) scale(0.7732,1)"><text x="0" y="0" font-family="Liberation Sans" font-size="7.429" fill="#333">J9</text></g>
<g transform="translate(461.741,287.600) scale(0.6968,1)"><text x="0" y="0" font-family="Liberation Sans" font-size="7.429" fill="#333">GND</text></g>
<g transform="translate(477.439,281.800) scale(0.9400,1)"><text x="0" y="0" font-family="Liberation Sans" font-size="6.857" fill="#333">0-20mA</text></g>
<g transform="translate(477.439,287.200) scale(0.9418,1)"><text x="0" y="0" font-family="Liberation Sans" font-size="6.857" fill="#333">0-5V</text></g>
<g transform="translate(498.229,287.200) scale(1.0000,1)"><text x="0" y="0" font-family="Liberation Sans" font-size="6.857" fill="#333">0-10V</text></g>
<rect x="521.5" y="288.5" width="55.00" height="32.00" stroke="#1a1a1a" stroke-width="1" fill="none"/>
<line x1="523.5" y1="291.5" x2="573.5" y2="291.5" stroke="#444" stroke-width="1"/>
<polyline points="523.50,291.50 523.50,311.50 528.00,311.50 525.50,316.50" stroke="#333" stroke-width="1" fill="none" stroke-linejoin="miter"/>
<polyline points="573.50,291.50 573.50,311.50 569.00,311.50 571.50,316.50" stroke="#333" stroke-width="1" fill="none" stroke-linejoin="miter"/>
<line x1="525.5" y1="316.5" x2="571.5" y2="316.5" stroke="#777" stroke-width="1.2"/>
<rect x="538.5" y="291.5" width="3" height="20.00" fill="#d4d4d4"/>
<line x1="538.5" y1="291.5" x2="538.5" y2="310.7" stroke="#666" stroke-width="1"/>
<line x1="541.5" y1="291.5" x2="541.5" y2="310.7" stroke="#666" stroke-width="1"/>
<polyline points="538.50,310.70 534.50,311.50 537.50,316.70 542.50,316.70 545.50,311.50 541.50,310.70" stroke="#333" stroke-width="1" fill="none" stroke-linejoin="miter"/>
<rect x="556.5" y="291.5" width="3" height="20.00" fill="#d4d4d4"/>
<line x1="556.5" y1="291.5" x2="556.5" y2="310.7" stroke="#666" stroke-width="1"/>
<line x1="559.5" y1="291.5" x2="559.5" y2="310.7" stroke="#666" stroke-width="1"/>
<polyline points="556.50,310.70 552.50,311.50 555.50,316.70 560.50,316.70 563.50,311.50 559.50,310.70" stroke="#333" stroke-width="1" fill="none" stroke-linejoin="miter"/>
<g transform="translate(522.167,287.000) scale(0.6522,1)"><text x="0" y="0" font-family="Liberation Sans" font-size="7.143" fill="#333">GND</text></g>
<g transform="translate(538.439,281.800) scale(0.9400,1)"><text x="0" y="0" font-family="Liberation Sans" font-size="6.857" fill="#333">0-20mA</text></g>
<g transform="translate(538.427,287.200) scale(1.0120,1)"><text x="0" y="0" font-family="Liberation Sans" font-size="6.857" fill="#333">0-5V</text></g>
<g transform="translate(559.535,287.200) scale(0.9611,1)"><text x="0" y="0" font-family="Liberation Sans" font-size="6.857" fill="#333">0-10V</text></g>
<g transform="translate(578.758,319.000) scale(0.7207,1)"><text x="0" y="0" font-family="Liberation Sans" font-size="13.429" fill="#444">J10</text></g>
<g transform="translate(88.000,45.000) scale(1.0000,1)"><text x="0" y="0" font-family="Liberation Serif" font-size="8.000" fill="#262626" stroke="#262626" stroke-width="0.071">电</text></g>
<g transform="translate(88.821,55.821) scale(0.9189,1)"><text x="0" y="0" font-family="Liberation Serif" font-size="7.789" fill="#262626" stroke="#262626" stroke-width="0.069">源</text></g>
<g transform="translate(88.821,66.821) scale(0.9189,1)"><text x="0" y="0" font-family="Liberation Serif" font-size="7.789" fill="#262626" stroke="#262626" stroke-width="0.069">输</text></g>
<g transform="translate(88.632,77.983) scale(0.8941,1)"><text x="0" y="0" font-family="Liberation Serif" font-size="8.222" fill="#262626" stroke="#262626" stroke-width="0.073">入</text></g>
<g transform="translate(45.030,120.421) scale(0.8714,1)"><text x="0" y="0" font-family="Liberation Serif" font-size="7.789" fill="#262626" stroke="#262626" stroke-width="0.069">压缩机低压</text></g>
<g transform="translate(45.232,136.589) scale(0.8275,1)"><text x="0" y="0" font-family="Liberation Serif" font-size="8.105" fill="#262626" stroke="#262626" stroke-width="0.072">压缩机高压</text></g>
<g transform="translate(45.237,153.605) scale(0.7268,1)"><text x="0" y="0" font-family="Liberation Serif" font-size="8.947" fill="#262626" stroke="#262626" stroke-width="0.080">压缩机过载报警输入</text></g>
<g transform="translate(45.079,170.700) scale(0.8020,1)"><text x="0" y="0" font-family="Liberation Serif" font-size="8.000" fill="#262626" stroke="#262626" stroke-width="0.071">总报警输入</text></g>
<g transform="translate(90.030,208.022) scale(0.8757,1)"><text x="0" y="0" font-family="Liberation Serif" font-size="7.778" fill="#262626" stroke="#262626" stroke-width="0.069">屏</text></g>
<g transform="translate(90.034,219.643) scale(0.8763,1)"><text x="0" y="0" font-family="Liberation Serif" font-size="7.568" fill="#262626" stroke="#262626" stroke-width="0.067">通</text></g>
<g transform="translate(90.030,230.863) scale(0.9243,1)"><text x="0" y="0" font-family="Liberation Serif" font-size="7.368" fill="#262626" stroke="#262626" stroke-width="0.065">信</text></g>
<g transform="translate(89.150,241.564) scale(0.9900,1)"><text x="0" y="0" font-family="Liberation Serif" font-size="8.485" fill="#262626" stroke="#262626" stroke-width="0.075">口</text></g>
<g transform="translate(77.074,283.600) scale(0.8153,1)"><text x="0" y="0" font-family="Liberation Serif" font-size="8.000" fill="#262626" stroke="#262626" stroke-width="0.071">变频器控</text></g>
<g transform="translate(77.234,294.400) scale(0.8312,1)"><text x="0" y="0" font-family="Liberation Serif" font-size="8.000" fill="#262626" stroke="#262626" stroke-width="0.071">制通信口</text></g>
<g transform="translate(56.567,356.342) scale(0.7481,1)"><text x="0.000" y="0" font-family="Liberation Serif" font-size="11.579" fill="#262626" stroke="#262626" stroke-width="0.103">单</text><text x="11.579" y="0" font-family="Liberation Serif" font-size="11.579" fill="#262626" stroke="#262626" stroke-width="0.103">位</text><text x="23.158" y="0" font-family="Liberation Serif" font-size="11.579" fill="#262626" stroke="#262626" stroke-width="0.103">：</text><text transform="translate(35.084,0.347) scale(0.566,1.15)" font-family="Liberation Serif" font-size="11.579" fill="#262626" stroke="#262626" stroke-width="0.103">m</text><text transform="translate(40.874,0.347) scale(0.566,1.15)" font-family="Liberation Serif" font-size="11.579" fill="#262626" stroke="#262626" stroke-width="0.103">m</text></g>
<g transform="translate(267.492,344.758) scale(0.8038,1)"><text x="0" y="0" font-family="Liberation Serif" font-size="8.421" fill="#262626" stroke="#262626" stroke-width="0.075">吸气温度</text></g>
<g transform="translate(308.832,344.758) scale(0.7997,1)"><text x="0" y="0" font-family="Liberation Serif" font-size="8.421" fill="#262626" stroke="#262626" stroke-width="0.075">排气温度</text></g>
<g transform="translate(347.658,344.758) scale(0.8120,1)"><text x="0" y="0" font-family="Liberation Serif" font-size="8.421" fill="#262626" stroke="#262626" stroke-width="0.075">未定义</text></g>
<g transform="translate(304.495,361.158) scale(0.7997,1)"><text transform="translate(0.253,0.253) scale(0.880,1.15)" font-family="Liberation Serif" font-size="8.421" fill="#262626" stroke="#262626" stroke-width="0.075">3</text><text x="4.211" y="0" font-family="Liberation Serif" font-size="8.421" fill="#262626" stroke="#262626" stroke-width="0.075">路</text><text transform="translate(12.884,0.253) scale(0.609,1.15)" font-family="Liberation Serif" font-size="8.421" fill="#262626" stroke="#262626" stroke-width="0.075">N</text><text transform="translate(17.095,0.253) scale(0.720,1.15)" font-family="Liberation Serif" font-size="8.421" fill="#262626" stroke="#262626" stroke-width="0.075">T</text><text transform="translate(21.305,0.253) scale(0.660,1.15)" font-family="Liberation Serif" font-size="8.421" fill="#262626" stroke="#262626" stroke-width="0.075">C</text><text x="25.263" y="0" font-family="Liberation Serif" font-size="8.421" fill="#262626" stroke="#262626" stroke-width="0.075">输</text><text x="33.684" y="0" font-family="Liberation Serif" font-size="8.421" fill="#262626" stroke="#262626" stroke-width="0.075">入</text></g>
<g transform="translate(404.633,345.358) scale(0.7917,1)"><text x="0" y="0" font-family="Liberation Serif" font-size="8.421" fill="#262626" stroke="#262626" stroke-width="0.075">低压</text></g>
<g transform="translate(424.468,345.358) scale(0.7896,1)"><text x="0" y="0" font-family="Liberation Serif" font-size="8.421" fill="#262626" stroke="#262626" stroke-width="0.075">高压</text></g>
<g transform="translate(411.336,356.621) scale(0.8399,1)"><text x="0" y="0" font-family="Liberation Serif" font-size="7.789" fill="#262626" stroke="#262626" stroke-width="0.069">传感器</text></g>
<g transform="translate(472.069,343.663) scale(0.8983,1)"><text x="0" y="0" font-family="Liberation Serif" font-size="7.368" fill="#262626" stroke="#262626" stroke-width="0.065">手动电位器</text></g>
<g transform="translate(529.662,343.663) scale(0.9167,1)"><text transform="translate(0.221,0.221) scale(0.880,1.15)" font-family="Liberation Serif" font-size="7.368" fill="#262626" stroke="#262626" stroke-width="0.065">0</text><text transform="translate(4.299,0.221) scale(1.000,1.15)" font-family="Liberation Serif" font-size="7.368" fill="#262626" stroke="#262626" stroke-width="0.065">-</text><text transform="translate(7.589,0.221) scale(0.880,1.15)" font-family="Liberation Serif" font-size="7.368" fill="#262626" stroke="#262626" stroke-width="0.065">1</text><text transform="translate(11.274,0.221) scale(0.880,1.15)" font-family="Liberation Serif" font-size="7.368" fill="#262626" stroke="#262626" stroke-width="0.065">0</text><text transform="translate(14.958,0.221) scale(0.609,1.15)" font-family="Liberation Serif" font-size="7.368" fill="#262626" stroke="#262626" stroke-width="0.065">V</text><text x="18.421" y="0" font-family="Liberation Serif" font-size="7.368" fill="#262626" stroke="#262626" stroke-width="0.065">制</text><text x="25.789" y="0" font-family="Liberation Serif" font-size="7.368" fill="#262626" stroke="#262626" stroke-width="0.065">冷</text><text x="33.158" y="0" font-family="Liberation Serif" font-size="7.368" fill="#262626" stroke="#262626" stroke-width="0.065">输</text><text x="40.526" y="0" font-family="Liberation Serif" font-size="7.368" fill="#262626" stroke="#262626" stroke-width="0.065">入</text></g>
<g transform="translate(481.460,365.853) scale(0.9101,1)"><text transform="translate(0.224,0.224) scale(0.880,1.15)" font-family="Liberation Serif" font-size="7.474" fill="#262626" stroke="#262626" stroke-width="0.066">2</text><text x="3.737" y="0" font-family="Liberation Serif" font-size="7.474" fill="#262626" stroke="#262626" stroke-width="0.066">路</text><text x="11.211" y="0" font-family="Liberation Serif" font-size="7.474" fill="#262626" stroke="#262626" stroke-width="0.066">模</text><text x="18.684" y="0" font-family="Liberation Serif" font-size="7.474" fill="#262626" stroke="#262626" stroke-width="0.066">拟</text><text x="26.158" y="0" font-family="Liberation Serif" font-size="7.474" fill="#262626" stroke="#262626" stroke-width="0.066">量</text><text x="33.632" y="0" font-family="Liberation Serif" font-size="7.474" fill="#262626" stroke="#262626" stroke-width="0.066">输</text><text x="41.105" y="0" font-family="Liberation Serif" font-size="7.474" fill="#262626" stroke="#262626" stroke-width="0.066">入</text></g>
<g transform="translate(477.911,377.353) scale(0.9096,1)"><text x="0.000" y="0" font-family="Liberation Serif" font-size="7.474" fill="#262626" stroke="#262626" stroke-width="0.066">（</text><text transform="translate(7.698,0.224) scale(0.880,1.15)" font-family="Liberation Serif" font-size="7.474" fill="#262626" stroke="#262626" stroke-width="0.066">0</text><text transform="translate(11.835,0.224) scale(1.000,1.15)" font-family="Liberation Serif" font-size="7.474" fill="#262626" stroke="#262626" stroke-width="0.066">-</text><text transform="translate(15.172,0.224) scale(0.880,1.15)" font-family="Liberation Serif" font-size="7.474" fill="#262626" stroke="#262626" stroke-width="0.066">5</text><text transform="translate(18.908,0.224) scale(0.609,1.15)" font-family="Liberation Serif" font-size="7.474" fill="#262626" stroke="#262626" stroke-width="0.066">V</text><text transform="translate(23.251,0.224) scale(1.000,1.15)" font-family="Liberation Serif" font-size="7.474" fill="#262626" stroke="#262626" stroke-width="0.066">/</text><text transform="translate(26.382,0.224) scale(0.880,1.15)" font-family="Liberation Serif" font-size="7.474" fill="#262626" stroke="#262626" stroke-width="0.066">0</text><text transform="translate(30.519,0.224) scale(1.000,1.15)" font-family="Liberation Serif" font-size="7.474" fill="#262626" stroke="#262626" stroke-width="0.066">-</text><text transform="translate(33.856,0.224) scale(0.880,1.15)" font-family="Liberation Serif" font-size="7.474" fill="#262626" stroke="#262626" stroke-width="0.066">1</text><text transform="translate(37.593,0.224) scale(0.880,1.15)" font-family="Liberation Serif" font-size="7.474" fill="#262626" stroke="#262626" stroke-width="0.066">0</text><text transform="translate(41.329,0.224) scale(0.609,1.15)" font-family="Liberation Serif" font-size="7.474" fill="#262626" stroke="#262626" stroke-width="0.066">V</text><text transform="translate(45.672,0.224) scale(1.000,1.15)" font-family="Liberation Serif" font-size="7.474" fill="#262626" stroke="#262626" stroke-width="0.066">/</text><text transform="translate(48.803,0.224) scale(0.880,1.15)" font-family="Liberation Serif" font-size="7.474" fill="#262626" stroke="#262626" stroke-width="0.066">4</text><text transform="translate(52.940,0.224) scale(1.000,1.15)" font-family="Liberation Serif" font-size="7.474" fill="#262626" stroke="#262626" stroke-width="0.066">-</text><text transform="translate(56.277,0.224) scale(0.880,1.15)" font-family="Liberation Serif" font-size="7.474" fill="#262626" stroke="#262626" stroke-width="0.066">2</text><text transform="translate(60.014,0.224) scale(0.880,1.15)" font-family="Liberation Serif" font-size="7.474" fill="#262626" stroke="#262626" stroke-width="0.066">0</text><text transform="translate(63.751,0.224) scale(0.566,1.15)" font-family="Liberation Serif" font-size="7.474" fill="#262626" stroke="#262626" stroke-width="0.066">m</text><text transform="translate(67.487,0.224) scale(0.609,1.15)" font-family="Liberation Serif" font-size="7.474" fill="#262626" stroke="#262626" stroke-width="0.066">A</text><text x="71.000" y="0" font-family="Liberation Serif" font-size="7.474" fill="#262626" stroke="#262626" stroke-width="0.066">可</text><text x="78.474" y="0" font-family="Liberation Serif" font-size="7.474" fill="#262626" stroke="#262626" stroke-width="0.066">选</text><text x="85.947" y="0" font-family="Liberation Serif" font-size="7.474" fill="#262626" stroke="#262626" stroke-width="0.066">）</text></g>
<g transform="translate(642.832,52.263) scale(0.9097,1)"><text x="0" y="0" font-family="Liberation Serif" font-size="7.368" fill="#262626" stroke="#262626" stroke-width="0.065">膨</text></g>
<g transform="translate(642.832,63.243) scale(0.8857,1)"><text x="0" y="0" font-family="Liberation Serif" font-size="7.568" fill="#262626" stroke="#262626" stroke-width="0.067">胀</text></g>
<g transform="translate(642.453,74.463) scale(0.9899,1)"><text x="0" y="0" font-family="Liberation Serif" font-size="7.368" fill="#262626" stroke="#262626" stroke-width="0.065">阀</text></g>
<g transform="translate(642.837,85.422) scale(0.8391,1)"><text x="0" y="0" font-family="Liberation Serif" font-size="7.778" fill="#262626" stroke="#262626" stroke-width="0.069">驱</text></g>
<g transform="translate(642.656,97.063) scale(0.9349,1)"><text x="0" y="0" font-family="Liberation Serif" font-size="7.368" fill="#262626" stroke="#262626" stroke-width="0.065">动</text></g>
<g transform="translate(642.837,107.663) scale(0.8857,1)"><text x="0" y="0" font-family="Liberation Serif" font-size="7.368" fill="#262626" stroke="#262626" stroke-width="0.065">输</text></g>
<g transform="translate(642.225,118.463) scale(1.0518,1)"><text x="0" y="0" font-family="Liberation Serif" font-size="7.368" fill="#262626" stroke="#262626" stroke-width="0.065">出</text></g>
<g transform="translate(640.428,165.200) scale(0.8603,1)"><text x="0" y="0" font-family="Liberation Serif" font-size="8.000" fill="#262626" stroke="#262626" stroke-width="0.071">压缩机开关量输出</text></g>
<g transform="translate(640.256,196.389) scale(0.8487,1)"><text x="0" y="0" font-family="Liberation Serif" font-size="8.105" fill="#262626" stroke="#262626" stroke-width="0.072">喷油开关</text></g>
<g transform="translate(638.561,253.621) scale(0.8714,1)"><text transform="translate(0.234,0.234) scale(0.880,1.15)" font-family="Liberation Serif" font-size="7.789" fill="#262626" stroke="#262626" stroke-width="0.069">0</text><text transform="translate(4.545,0.234) scale(1.000,1.15)" font-family="Liberation Serif" font-size="7.789" fill="#262626" stroke="#262626" stroke-width="0.069">-</text><text transform="translate(8.023,0.234) scale(0.880,1.15)" font-family="Liberation Serif" font-size="7.789" fill="#262626" stroke="#262626" stroke-width="0.069">1</text><text transform="translate(11.918,0.234) scale(0.880,1.15)" font-family="Liberation Serif" font-size="7.789" fill="#262626" stroke="#262626" stroke-width="0.069">0</text><text transform="translate(15.813,0.234) scale(0.609,1.15)" font-family="Liberation Serif" font-size="7.789" fill="#262626" stroke="#262626" stroke-width="0.069">V</text><text x="19.474" y="0" font-family="Liberation Serif" font-size="7.789" fill="#262626" stroke="#262626" stroke-width="0.069">同</text><text x="27.263" y="0" font-family="Liberation Serif" font-size="7.789" fill="#262626" stroke="#262626" stroke-width="0.069">步</text><text x="35.053" y="0" font-family="Liberation Serif" font-size="7.789" fill="#262626" stroke="#262626" stroke-width="0.069">输</text><text x="42.842" y="0" font-family="Liberation Serif" font-size="7.789" fill="#262626" stroke="#262626" stroke-width="0.069">出</text></g>
<g transform="translate(638.556,289.800) scale(0.8590,1)"><text x="0" y="0" font-family="Liberation Serif" font-size="8.000" fill="#262626" stroke="#262626" stroke-width="0.071">未定义</text></g>
<g transform="translate(588.831,228.158) scale(0.8038,1)"><text x="0" y="0" font-family="Liberation Serif" font-size="8.421" fill="#262626" stroke="#262626" stroke-width="0.075">模拟量输出</text></g>
</svg>
</body></html>
